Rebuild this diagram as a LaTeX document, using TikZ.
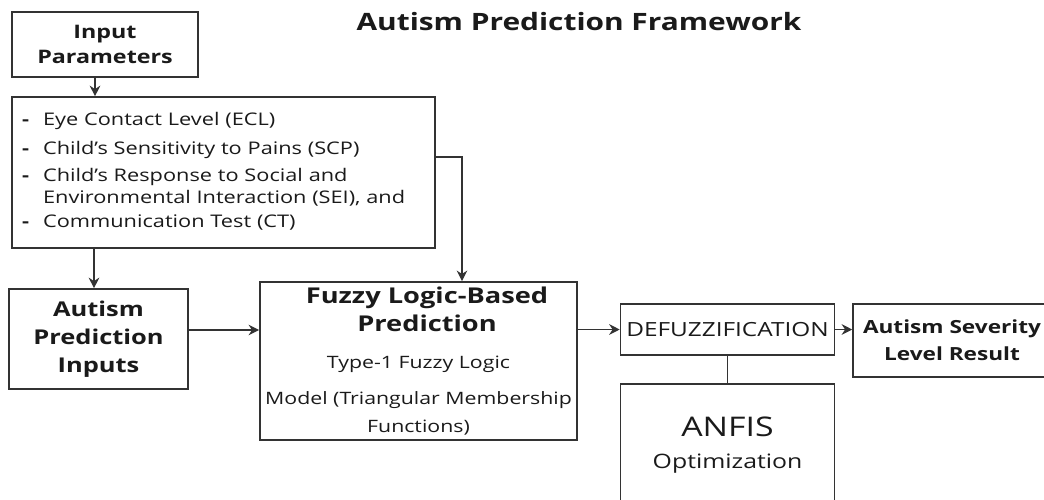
\documentclass[tikz,border=0pt]{standalone}
\usepackage{fontspec}
\setmainfont[FakeStretch=1.25]{Open Sans}
\usepackage{xcolor}
\definecolor{fwdark}{HTML}{1A1A1A}
\definecolor{fwline}{HTML}{333333}
\usepackage{tikz}
\usetikzlibrary{arrows.meta,positioning,calc}
\tikzset{
  fwbox/.style={
    draw=fwline, fill=white, line width=0.9pt,
    align=center, text=fwdark, inner sep=3pt
  },
  fwarr/.style={-{Stealth[length=6pt,width=6pt]}, draw=fwline, line width=0.8pt},
  fwlink/.style={draw=fwline, line width=0.8pt}
}
\newcommand{\fwsub}{\mdseries\fontsize{9.7}{10.8}\selectfont}

\begin{document}
\begin{tikzpicture}[x=0.02cm, y=-0.02cm]
  \clip (0,0) rectangle (1044,500);
  \fill[white] (0,0) rectangle (1044,500);

  \node[font=\bfseries\fontsize{13.6}{16}\selectfont, text=fwdark] (title) at (579,22)
    {Autism Prediction Framework};

  \node[fwbox, minimum width=3.72cm, minimum height=1.3cm,
        font=\bfseries\fontsize{10.6}{14.2}\selectfont] (inpar) at (105,44.5)
    {Input\\Parameters};

  \node[fwbox, minimum width=8.46cm, minimum height=3.02cm, text width=8.06cm,
        align=left, inner xsep=0.2cm, font=\fontsize{9.9}{12.5}\selectfont] (params) at (223.5,172.5)
    {\begin{tabular}{@{}l@{\hspace{8pt}}l@{}}
      \textbf{-} & Eye Contact Level (ECL)\\[3.5pt]
      \textbf{-} & Child's Sensitivity to Pains (SCP)\\[3pt]
      \textbf{-} & Child's Response to Social and\\
                 & Environmental Interaction (SEI), and\\[1.5pt]
      \textbf{-} & Communication Test (CT)
     \end{tabular}};

  \node[fwbox, minimum width=3.58cm, minimum height=2.0cm,
        font=\bfseries\fontsize{11.6}{15.9}\selectfont] (apin) at (98.5,339)
    {Autism\\Prediction\\Inputs};

  \node[fwbox, minimum width=6.22cm, minimum height=3.16cm,
        font=\bfseries\fontsize{12.4}{15.9}\selectfont] (fuzzy) at (418.5,361)
    {\hspace*{0.34cm}Fuzzy Logic-Based\\\hspace*{0.34cm}Prediction\\[5pt]
     \fwsub Type-1 Fuzzy Logic\\[4.5pt]
     \fwsub Model (Triangular Membership\\
     \fwsub Functions)};

  \node[fwbox, minimum width=4.28cm, minimum height=1.02cm,
        font=\fontsize{11.1}{13}\selectfont] (defuzz) at (727.5,329.5)
    {DEFUZZIFICATION};

  \node[fwbox, minimum width=3.96cm, minimum height=1.46cm,
        font=\bfseries\fontsize{10.3}{15.3}\selectfont] (sever) at (952,340.5)
    {Autism Severity\\Level Result};

  \node[fwbox, minimum width=4.28cm, minimum height=2.44cm,
        font=\fontsize{15.4}{18}\selectfont] (anfis) at (727.5,445)
    {ANFIS\\\fontsize{11.3}{18}\selectfont Optimization};

  % connectors
  \draw[fwarr] ([xshift=-0.2cm]inpar.south) -- ([xshift=-0.2cm]inpar.south |- params.north);
  \draw[fwarr] ([xshift=-0.09cm]apin.north |- params.south) -- ([xshift=-0.09cm]apin.north);
  \draw[fwarr] ([yshift=0.31cm]params.east) -| ([xshift=0.87cm]fuzzy.north);
  \draw[fwarr] ([yshift=0.18cm]apin.east) -- ([yshift=0.18cm]apin.east -| fuzzy.west);
  \draw[fwarr] (fuzzy.east |- defuzz.west) -- (defuzz.west);
  \draw[fwarr] (defuzz.east) -- (defuzz.east -| sever.west);
  \draw[fwlink] (defuzz.south) -- (anfis.north);
\end{tikzpicture}
\end{document}
